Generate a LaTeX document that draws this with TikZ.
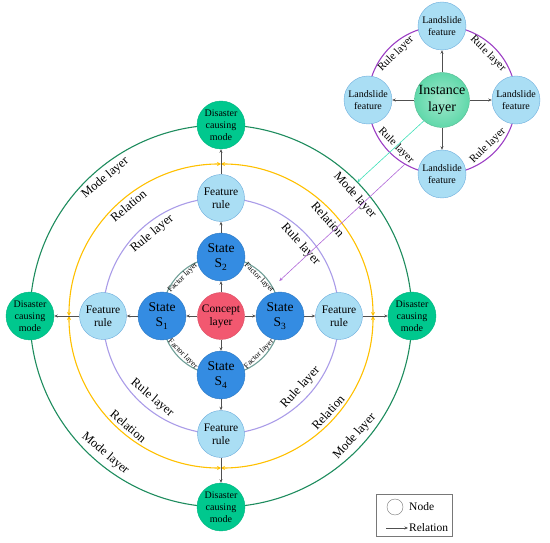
\documentclass[tikz,border=0pt]{standalone}
\usepackage{fontspec}
\setmainfont{Liberation Serif}
\usetikzlibrary{arrows.meta,positioning,calc}

\definecolor{statecol}{RGB}{52,140,226}
\definecolor{conceptcol}{RGB}{242,88,112}
\definecolor{featcol}{RGB}{170,222,244}
\definecolor{featline}{RGB}{108,172,220}
\definecolor{discol}{RGB}{0,200,142}
\definecolor{instcol}{RGB}{96,216,170}
\definecolor{modecol}{RGB}{30,140,94}
\definecolor{relcol}{RGB}{255,192,0}
\definecolor{rulecol}{RGB}{170,156,232}
\definecolor{factcol}{RGB}{110,158,150}
\definecolor{instringcol}{RGB}{156,63,196}
\definecolor{tealcol}{RGB}{63,224,184}
\definecolor{purpcol}{RGB}{176,104,216}
\definecolor{arrowcol}{RGB}{80,80,80}
\definecolor{legcol}{RGB}{120,120,120}

\tikzset{
  statenode/.style={circle,fill=statecol,draw=statecol!85!black,minimum size=48pt,inner sep=0pt,align=center,font=\fontsize{13.5}{15}\selectfont},
  conceptnode/.style={circle,fill=conceptcol,draw=conceptcol!90!black,minimum size=47pt,inner sep=0pt,align=center,font=\fontsize{11.5}{13}\selectfont},
  featnode/.style={circle,fill=featcol,draw=featline,minimum size=47pt,inner sep=0pt,align=center,font=\fontsize{11.5}{13}\selectfont},
  disnode/.style={circle,fill=discol,draw=discol!90!black,minimum size=48pt,inner sep=0pt,align=center,font=\fontsize{10}{12}\selectfont},
  instnode/.style={circle,inner color=instcol!60!white,outer color=instcol,draw=instcol!85!black,minimum size=52pt,inner sep=0pt,align=center,font=\fontsize{14}{17}\selectfont},
  landnode/.style={circle,fill=featcol,draw=featline,minimum size=48pt,inner sep=0pt,align=center,font=\fontsize{10}{12}\selectfont},
  flow/.style={draw=arrowcol,line width=0.6pt,-{Stealth[length=3.5pt,width=3pt]}},
  ring/.style={line width=1.1pt},
  ringlab/.style={inner sep=0pt,font=\fontsize{12.5}{13}\selectfont},
  factlab/.style={inner sep=0pt,font=\fontsize{8}{9}\selectfont},
  instlab/.style={inner sep=0pt,font=\fontsize{11}{12}\selectfont},
}

\begin{document}
\begin{tikzpicture}[x=1pt,y=1pt,node distance=59pt,on grid]
\useasboundingbox (0,0) rectangle (550,542);
\coordinate (c0) at (221,226);
\coordinate (i0) at (442,442);

% layer rings
\draw[ring,factcol] (c0) circle (59);
\draw[ring,rulecol] (c0) circle (118);
\draw[ring,modecol] (c0) circle (191);
\foreach \a in {0,90,180,270}
  \draw[ring,relcol,{Stealth[length=4pt,width=4pt]}-{Stealth[length=4pt,width=4pt]}]
    ($(c0)+(\a:152)$) arc[start angle=\a,end angle=\a+90,radius=152];
\draw[ring,instringcol] (i0) circle (74);

% ring labels
\foreach \a/\r in {42/-48,130/40,230/-40,318/48}{
  \node[ringlab,rotate=\r] (mode\a) at ($(c0)+(\a:180)$) {Mode layer};
  \node[ringlab,rotate=\r] (rel\a) at ($(c0)+(\a:144)$) {Relation};
  \node[ringlab,rotate=\r] (rule\a) at ($(c0)+(\a:107)$) {Rule layer};
}
\foreach \a/\r in {45/-45,135/45,225/-45,315/45}{
  \node[factlab,rotate=\r] (fact\a) at ($(c0)+(\a:54)$) {Factor layer};
  \node[instlab,rotate=\r] (irule\a) at ($(i0)+(\a:65)$) {Rule layer};
}

% concept layer
\node[conceptnode] (c) at (c0) {Concept\\layer};
\node[statenode,left=of c] (s1) {State\\S\textsubscript{1}};
\node[statenode,above=of c] (s2) {State\\S\textsubscript{2}};
\node[statenode,right=of c] (s3) {State\\S\textsubscript{3}};
\node[statenode,below=of c] (s4) {State\\S\textsubscript{4}};
\node[featnode,left=of s1] (f1) {Feature\\rule};
\node[featnode,above=of s2] (f2) {Feature\\rule};
\node[featnode,right=of s3] (f3) {Feature\\rule};
\node[featnode,below=of s4] (f4) {Feature\\rule};
\node[disnode,left=73pt of f1] (d1) {Disaster\\causing\\mode};
\node[disnode,above=73pt of f2] (d2) {Disaster\\causing\\mode};
\node[disnode,right=73pt of f3] (d3) {Disaster\\causing\\mode};
\node[disnode,below=73pt of f4] (d4) {Disaster\\causing\\mode};

% instance layer
\node[instnode] (inst) at (i0) {Instance\\layer};
\node[landnode,left=74pt of inst] (l1) {Landslide\\feature};
\node[landnode,above=74pt of inst] (l2) {Landslide\\feature};
\node[landnode,right=74pt of inst] (l3) {Landslide\\feature};
\node[landnode,below=74pt of inst] (l4) {Landslide\\feature};

% relations
\foreach \s/\f/\d in {s1/f1/d1,s2/f2/d2,s3/f3/d3,s4/f4/d4}{
  \draw[flow] (c) -- (\s);
  \draw[flow] (\s) -- (\f);
  \draw[flow] (\f) -- (\d);
}
\foreach \l in {l1,l2,l3,l4}
  \draw[flow] (inst) -- (\l);

% links between layers
\coordinate (modehit) at ($(c0)+(44.5:191)$);
\coordinate (ringhit) at ($(i0)+(240:74)$);
\coordinate (facthit) at ($(c0)+(31:68)$);
\draw[tealcol,line width=0.6pt,-{Stealth[length=3.5pt,width=3pt]}] (inst.229) -- (modehit);
\draw[purpcol,line width=0.6pt,-{Stealth[length=3.5pt,width=3pt]}] (ringhit) -- (facthit);

% legend
\node[draw=legcol,minimum width=76pt,minimum height=42pt] (leg) at (414,27) {};
\node[circle,draw=legcol,minimum size=16pt,inner sep=0pt] (legnode) at (395,35) {};
\node[anchor=west,inner sep=0pt,font=\fontsize{11.5}{12}\selectfont] (legnodetxt) at (409,35) {Node};
\node[anchor=west,inner sep=0pt,font=\fontsize{11.5}{12}\selectfont] (legreltxt) at (409,14) {Relation};
\coordinate (legfrom) at (386,14);
\draw[flow] (legfrom) -- ([xshift=-1pt]legreltxt.west);
\end{tikzpicture}
\end{document}
